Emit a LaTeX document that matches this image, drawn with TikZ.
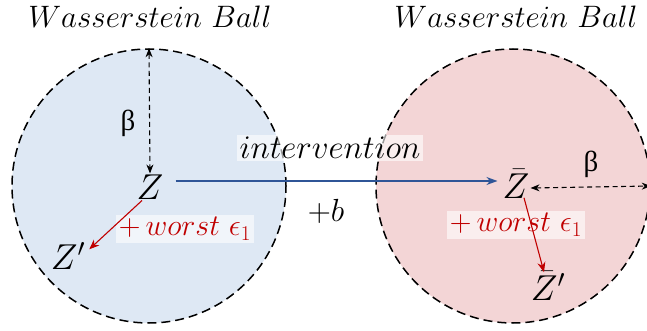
\RequirePackage{fix-cm}
\documentclass[tikz,border=0pt]{standalone}
\usepackage{amsmath}
\usepackage{fontspec}
\newfontfamily\grkfont{Liberation Serif}
\usetikzlibrary{arrows.meta,positioning}
\definecolor{ballBlue}{HTML}{DEE8F4}
\definecolor{ballPink}{HTML}{F3D5D6}
\definecolor{worstRed}{HTML}{C00000}
\definecolor{shiftBlue}{HTML}{2F5597}

\begin{document}
\begin{tikzpicture}[x=1pt,y=-1pt,
  ball/.style={circle,draw,line width=1.5pt,dash pattern=on 9pt off 5pt,minimum size=274pt,inner sep=0pt},
  pt/.style={font=\fontsize{36}{40}\selectfont,inner sep=1pt},
  tag/.style={fill=white,fill opacity=0.6,text opacity=1,inner sep=2.5pt},
  radius/.style={{Stealth[length=9pt,width=7pt]}-{Stealth[length=9pt,width=7pt]},line width=1.1pt,dash pattern=on 5pt off 3.5pt},
  worst/.style={-{Stealth[length=10pt,width=8pt]},worstRed,line width=1.1pt}]
  \useasboundingbox (0,0) rectangle (647,331);
  % the two balls
  \node[ball,fill=ballBlue] (ballL) at (149,186) {};
  \node[ball,fill=ballPink] (ballR) at (513,186) {};
  \node[font=\fontsize{31}{34}\selectfont] (titleL) at (150,17) {$Wasserstein\ Ball$};
  \node[font=\fontsize{31}{34}\selectfont] (titleR) at (516,17) {$Wasserstein\ Ball$};
  % points
  \node[pt] (z) at (150,187) {$Z$};
  \node[pt] (zp) at (68,256) {$Z'$};
  \node[pt] (zb) at (516,184) {$\bar{Z}$};
  \node[pt] (zbp) at (548,286) {$\bar{Z}'$};
  % radii
  \draw[radius] (ballL.north) -- (z.north);
  \node[font=\grkfont\fontsize{29}{32}\selectfont] (betaL) at (128,123) {β};
  \draw[radius] ([yshift=-4pt]zb.east) -- (ballR.east);
  \node[font=\grkfont\fontsize{29}{32}\selectfont] (betaR) at (591,164) {β};
  % intervention
  \draw[-{Stealth[length=11pt,width=8pt]},shiftBlue,line width=1.3pt] ([xshift=11pt,yshift=6pt]z.east) -- ([xshift=-4pt,yshift=3pt]zb.west);
  \node[tag,font=\fontsize{33}{36}\selectfont] (interv) at (330,148) {$intervention$};
  \node[font=\fontsize{32}{34}\selectfont] (shift) at (326,211) {$+b$};
  % worst-case perturbations
  \node[tag,text=worstRed,font=\fontsize{30}{32}\selectfont] (epsL) at (185,229) {$+\,worst\ \epsilon_1$};
  \node[tag,text=worstRed,font=\fontsize{30}{32}\selectfont] (epsR) at (516,225) {$+\,worst\ \epsilon_1$};
  \draw[worst] ([xshift=-8pt]z.south) -- ([xshift=3pt,yshift=-8pt]zp.north east);
  \draw[worst] ([xshift=8pt,yshift=2pt]zb.south) -- ([xshift=-4pt,yshift=-2pt]zbp.north);
\end{tikzpicture}
\end{document}
